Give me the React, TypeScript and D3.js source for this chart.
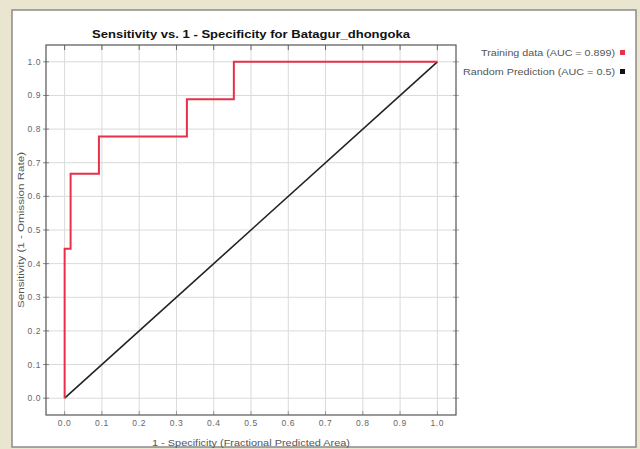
import React, { useEffect, useRef } from "react";
import * as d3 from "d3";

// ROC curve for the training data (false positive rate, true positive rate)
const rocFpr = [0, 0, 0.003, 0.016, 0.016, 0.092, 0.092, 0.328, 0.328, 0.454, 0.454, 1.0];
const rocTpr = [0, 0.444, 0.444, 0.444, 0.667, 0.667, 0.778, 0.778, 0.889, 0.889, 1.0, 1.0];
// Random prediction reference line
const randFpr = [0, 1];
const randTpr = [0, 1];
const tickValues = [0, 0.1, 0.2, 0.3, 0.4, 0.5, 0.6, 0.7, 0.8, 0.9, 1.0];
const legendLabels = ["Training data (AUC = 0.899)", "Random Prediction (AUC = 0.5)"];
const legendColors = ["#e8304a", "#111111"];

const W = 640;
const H = 449;
const FONT = "'Liberation Sans', Arial, sans-serif";

export default function App() {
  const ref = useRef<SVGSVGElement | null>(null);

  useEffect(() => {
    const svg = d3.select(ref.current);
    svg.selectAll("*").remove();

    // page background and white panel
    svg.append("rect").attr("width", W).attr("height", H).attr("fill", "#e9e5cf");
    svg.append("rect").attr("x", 12).attr("y", 10).attr("width", 624).attr("height", 437)
      .attr("fill", "#ffffff").attr("stroke", "#8a8a8a").attr("stroke-width", 1.5);

    const left = 46, right = 456, top = 45, bottom = 415;
    const x = d3.scaleLinear().domain([-0.05, 1.05]).range([left, right]);
    const y = d3.scaleLinear().domain([-0.05, 1.05]).range([bottom, top]);

    // grid
    const g = svg.append("g");
    tickValues.forEach((t) => {
      g.append("line").attr("x1", x(t)).attr("x2", x(t)).attr("y1", top).attr("y2", bottom)
        .attr("stroke", "#dadada").attr("stroke-width", 1);
      g.append("line").attr("x1", left).attr("x2", right).attr("y1", y(t)).attr("y2", y(t))
        .attr("stroke", "#dadada").attr("stroke-width", 1);
    });

    // tick marks
    tickValues.forEach((t) => {
      g.append("line").attr("x1", x(t)).attr("x2", x(t)).attr("y1", top).attr("y2", top + 5)
        .attr("stroke", "#666");
      g.append("line").attr("x1", x(t)).attr("x2", x(t)).attr("y1", bottom - 4).attr("y2", bottom)
        .attr("stroke", "#999");
      g.append("line").attr("x1", left - 3).attr("x2", left + 3).attr("y1", y(t)).attr("y2", y(t))
        .attr("stroke", "#888");
      g.append("line").attr("x1", right - 3).attr("x2", right + 3).attr("y1", y(t)).attr("y2", y(t))
        .attr("stroke", "#aaa");
    });

    // plot frame
    svg.append("rect").attr("x", left).attr("y", top).attr("width", right - left).attr("height", bottom - top)
      .attr("fill", "none").attr("stroke", "#555").attr("stroke-width", 1.2);

    const line = d3.line<[number, number]>().x((d) => x(d[0])).y((d) => y(d[1]));

    // random prediction diagonal
    svg.append("path").datum(randFpr.map((v, i) => [v, randTpr[i]] as [number, number]))
      .attr("d", line).attr("fill", "none").attr("stroke", "#222").attr("stroke-width", 1.6);

    // training ROC curve
    svg.append("path").datum(rocFpr.map((v, i) => [v, rocTpr[i]] as [number, number]))
      .attr("d", line).attr("fill", "none").attr("stroke", legendColors[0]).attr("stroke-width", 2)
      .attr("stroke-linejoin", "miter");

    // tick labels
    tickValues.forEach((t) => {
      svg.append("text").attr("x", x(t)).attr("y", bottom + 11).attr("text-anchor", "middle")
        .attr("font-family", FONT).attr("font-size", 8.5).attr("letter-spacing", 0.6)
        .attr("fill", "#666").text(t.toFixed(1));
      svg.append("text").attr("x", left - 5).attr("y", y(t) + 3).attr("text-anchor", "end")
        .attr("font-family", FONT).attr("font-size", 8.5).attr("letter-spacing", 0.6)
        .attr("fill", "#666").text(t.toFixed(1));
    });

    // title
    svg.append("text").attr("x", (left + right) / 2 - 159).attr("y", 38)
      .attr("textLength", 318).attr("lengthAdjust", "spacingAndGlyphs")
      .attr("font-family", FONT).attr("font-size", 11).attr("font-weight", "bold").attr("fill", "#111")
      .text("Sensitivity vs. 1 - Specificity for Batagur_dhongoka");

    // axis titles
    svg.append("text").attr("x", (left + right) / 2 - 99).attr("y", 446)
      .attr("textLength", 198).attr("lengthAdjust", "spacingAndGlyphs")
      .attr("font-family", FONT).attr("font-size", 9).attr("fill", "#555")
      .text("1 - Specificity  (Fractional Predicted Area)");
    svg.append("text").attr("transform", `translate(24, ${(top + bottom) / 2 + 78}) rotate(-90)`)
      .attr("textLength", 156).attr("lengthAdjust", "spacingAndGlyphs")
      .attr("font-family", FONT).attr("font-size", 9).attr("fill", "#555")
      .text("Sensitivity  (1 - Omission Rate)");

    // legend
    const legendWidths = [134, 152];
    legendLabels.forEach((lab, i) => {
      const ly = 56 + i * 19;
      svg.append("text").attr("x", 615 - legendWidths[i]).attr("y", ly)
        .attr("textLength", legendWidths[i]).attr("lengthAdjust", "spacingAndGlyphs")
        .attr("font-family", FONT).attr("font-size", 9).attr("fill", "#555").text(lab);
      svg.append("rect").attr("x", 620).attr("y", ly - 6).attr("width", 5).attr("height", 5)
        .attr("fill", legendColors[i]);
    });
  }, []);

  return (
    <div style={{ position: "absolute", left: 0, top: 0 }}>
      <svg ref={ref} width={W} height={H} style={{ display: "block" }} />
    </div>
  );
}
